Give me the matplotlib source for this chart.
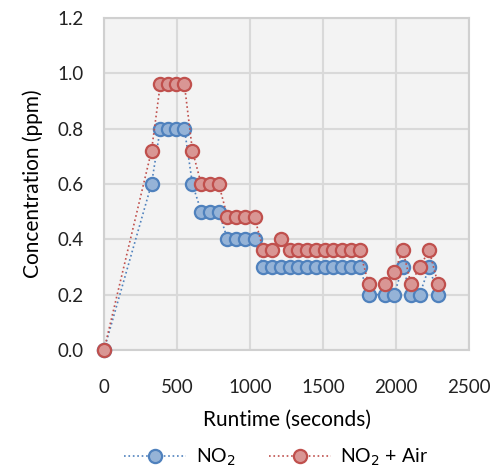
import matplotlib.pyplot as plt

# runtime in seconds
runtime = [0, 325, 385, 440, 495, 550, 605, 665, 725, 785, 845, 905, 965, 1030,
           1090, 1150, 1210, 1270, 1330, 1390, 1450, 1510, 1570, 1630, 1690, 1750,
           1810, 1925, 1985, 2045, 2100, 2160, 2225, 2285]

no2 = [0, 0.6, 0.8, 0.8, 0.8, 0.8, 0.6, 0.5, 0.5, 0.5, 0.4, 0.4, 0.4, 0.4,
       0.3, 0.3, 0.3, 0.3, 0.3, 0.3, 0.3, 0.3, 0.3, 0.3, 0.3, 0.3,
       0.2, 0.2, 0.2, 0.3, 0.2, 0.2, 0.3, 0.2]

no2_air = [0, 0.72, 0.96, 0.96, 0.96, 0.96, 0.72, 0.6, 0.6, 0.6, 0.48, 0.48, 0.48, 0.48,
           0.36, 0.36, 0.4, 0.36, 0.36, 0.36, 0.36, 0.36, 0.36, 0.36, 0.36, 0.36,
           0.24, 0.24, 0.28, 0.36, 0.24, 0.3, 0.36, 0.24]

plt.rcParams['font.family'] = ['Lato', 'DejaVu Sans']

fig = plt.figure(figsize=(4.93, 4.71), dpi=100)
ax = fig.add_axes([0.211, 0.257, 0.741, 0.705])
ax.set_facecolor('#f3f3f3')

ax.plot(runtime, no2, ls=':', lw=1.2, color='#4f81bd', marker='o', ms=9.5,
        mfc='#95b3d7', mec='#4f81bd', mew=1.6, label='NO$_2$', zorder=3, clip_on=False)
ax.plot(runtime, no2_air, ls=':', lw=1.2, color='#c0504d', marker='o', ms=9.5,
        mfc='#d99694', mec='#c0504d', mew=1.6, label='NO$_2$ + Air', zorder=4, clip_on=False)

ax.set_xlim(0, 2500)
ax.set_ylim(0, 1.2)
ax.set_xticks([0, 500, 1000, 1500, 2000, 2500])
ax.set_yticks([0, 0.2, 0.4, 0.6, 0.8, 1.0, 1.2])
ax.set_yticklabels(['0.0', '0.2', '0.4', '0.6', '0.8', '1.0', '1.2'])
ax.grid(True, color='#d9d9d9', lw=1.5)
ax.set_axisbelow(True)
for s in ax.spines.values():
    s.set_color('#d0d0d0')
    s.set_linewidth(1.5)
ax.tick_params(length=0, labelsize=13.5, colors='#222222')
ax.tick_params(axis='x', pad=21)
ax.tick_params(axis='y', pad=15)

ax.set_xlabel('Runtime (seconds)', fontsize=15, labelpad=10)
ax.set_ylabel('Concentration (ppm)', fontsize=15, labelpad=10)

fig.legend(loc='lower center', bbox_to_anchor=(0.56, -0.03), ncol=2, frameon=False,
           fontsize=14, handlelength=3.2, columnspacing=1.7, handletextpad=0.5)

fig.savefig('out.png', dpi=100)
